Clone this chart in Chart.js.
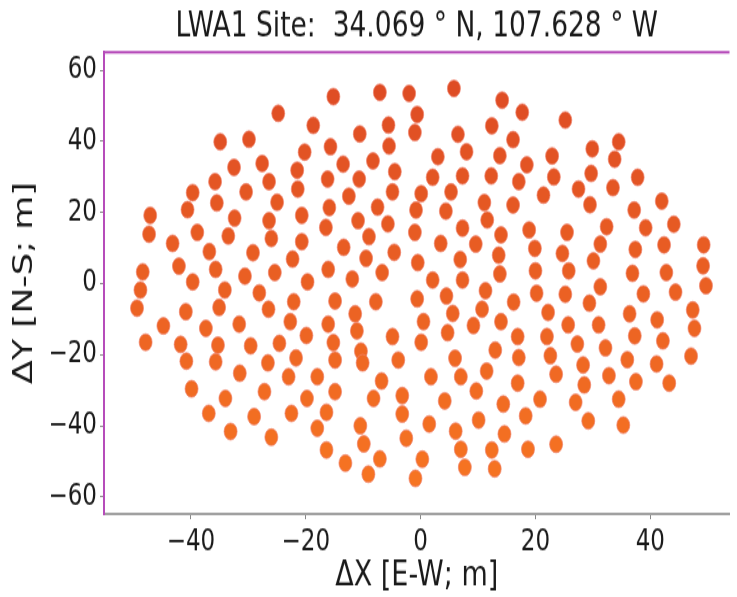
<!DOCTYPE html>
<html><head><meta charset="utf-8">
<script src="https://cdn.jsdelivr.net/npm/chart.js@4.4.0/dist/chart.umd.min.js"></script>
<style>
html,body{margin:0;padding:0;background:#fff;width:737px;height:597px;}
#wrap{width:737px;height:460px;transform:scaleY(1.2978);transform-origin:0 0;}
canvas{display:block;}
</style></head><body>
<div id="wrap"><canvas id="c" width="737" height="460"></canvas></div>
<script>
// Antenna positions (metres), E-W and N-S offsets
const xEW = [
-24.8,-18.7,-34.9,-29.9,-20.2,-32.5,-27.6,-21.5,-35.8,-30.4,
-26.4,-21.4,-39.7,-35.5,-25.0,-40.6,-47.1,-20.7,-32.4,-15.2,
-7.1,-2.0,5.8,14.2,17.7,-10.6,-5.6,-0.6,-1.0,6.5,
12.4,16.1,-15.7,-5.5,-8.3,-13.5,3.0,8.0,13.8,-4.5,
2.1,7.3,12.3,17.1,-16.2,-10.7,-12.5,-4.9,0.1,5.3,
11.1,16.1,-15.9,-7.5,-0.8,4.4,25.2,34.5,29.9,22.9,
33.8,18.5,23.2,29.7,37.8,21.4,27.5,33.5,42.0,29.5,
37.2,-26.4,-47.3,-38.9,-33.5,-26.0,-20.7,-43.2,-36.8,-29.2,
-22.3,-48.4,-42.1,-35.7,-30.6,-25.4,-19.7,-39.7,-48.8,-34.1,
-28.1,-49.4,-40.9,-35.1,-26.5,-22.1,-44.8,-37.4,-31.6,-22.7,
-19.9,-47.9,-41.8,-35.3,-29.6,-24.6,-40.8,-35.7,-26.6,-21.7,
-31.5,-23.0,-18.0,-39.9,-34.0,-27.2,-19.8,-36.9,-29.0,-22.5,
-18.0,-33.1,-26.0,-10.9,-5.7,-16.5,-1.0,7.3,11.6,14.0,
-9.0,-13.4,-4.6,3.5,9.6,-9.5,-0.5,6.9,13.6,-16.1,
-11.9,-6.7,2.1,7.3,13.8,-14.9,-7.8,-0.6,4.5,11.3,
16.2,-11.4,5.6,10.7,-16.1,-11.1,0.5,9.2,14.0,-15.2,
-4.9,0.1,4.7,13.0,16.9,-10.4,-14.9,-10.1,-3.9,6.0,
11.5,17.1,-6.8,1.8,7.0,16.9,-14.9,-8.2,-3.2,4.2,
9.7,14.4,-16.4,-3.2,10.1,18.3,-10.5,1.5,6.1,14.6,
-16.4,-9.9,-2.5,7.0,12.4,-13.1,-7.1,0.3,7.7,12.9,
-9.1,-0.9,18.9,25.5,32.4,39.2,44.1,19.9,24.7,31.3,
37.4,42.4,49.3,30.1,20.0,25.8,36.9,42.8,49.2,49.7,
31.3,20.2,25.2,38.8,44.4,29.4,22.2,36.4,41.2,47.4,
25.7,31.0,47.7,22.0,27.3,32.2,37.3,42.2,22.6,28.3,
36.0,41.1,47.1,23.6,28.5,32.8,37.5,43.3,20.8,27.0,
34.5,29.2,35.3,18.7,23.6
];
const yNS = [
47.9,44.5,39.9,40.6,37.0,32.7,33.8,31.9,28.7,25.8,
28.7,26.6,25.6,22.7,22.9,20.8,19.2,19.2,18.4,52.6,
53.8,53.5,54.9,51.6,48.2,42.1,44.6,47.6,42.5,42.0,
44.4,40.5,38.5,38.7,34.5,33.6,35.7,37.1,36.0,31.5,
29.9,30.3,30.3,28.7,29.4,29.4,24.6,25.8,25.3,25.8,
22.8,22.1,21.4,21.5,20.7,20.4,46.0,39.9,37.9,35.9,
35.0,33.4,30.0,31.0,29.9,24.9,26.6,27.0,23.2,22.2,
20.7,17.7,13.9,14.4,13.4,12.7,11.8,11.3,9.0,8.7,
6.9,3.3,4.9,4.0,2.1,3.1,0.5,0.5,-1.8,-1.8,
-2.6,-6.9,-7.9,-6.7,-7.2,-5.1,-11.9,-12.6,-11.4,-10.7,
-14.6,-16.5,-17.1,-17.3,-17.5,-16.8,-21.8,-22.0,-22.3,-20.9,
-25.2,-26.2,-26.2,-29.6,-32.3,-30.4,-32.3,-36.5,-37.4,-36.5,
-40.7,-41.6,-43.2,17.7,16.8,15.8,14.4,15.6,17.9,13.7,
13.2,10.2,8.8,11.3,11.1,7.1,5.9,6.8,8.0,4.0,
1.3,3.1,1.0,1.0,2.7,-4.9,-5.1,-4.3,-3.5,-2.0,
-5.2,-8.5,-8.4,-7.2,-11.4,-13.3,-10.7,-11.8,-10.7,-16.6,
-14.9,-16.5,-13.8,-18.7,-14.9,-19.0,-21.5,-22.3,-21.5,-21.0,
-24.6,-20.8,-27.4,-26.2,-26.2,-28.0,-30.4,-32.3,-31.5,-33.0,
-30.2,-33.9,-36.2,-36.7,-38.4,-37.2,-40.0,-39.5,-41.5,-42.3,
-46.8,-45.1,-43.5,-46.6,-46.8,-50.5,-49.3,-49.4,-51.7,-52.1,
-53.6,-54.8,15.1,14.4,16.0,15.7,16.7,9.9,8.5,11.1,
9.6,10.9,10.9,6.4,3.6,3.6,2.9,3.1,5.0,-0.6,
-0.9,-2.7,-3.0,-2.9,-2.4,-5.5,-8.1,-8.5,-10.2,-7.4,
-11.6,-11.6,-12.6,-14.9,-17.0,-18.1,-14.7,-16.1,-20.3,-22.9,
-21.4,-22.6,-20.4,-25.5,-28.5,-25.9,-27.6,-28.0,-32.5,-33.4,
-32.5,-38.6,-39.8,-46.6,-45.2
];
const xTicks = [-40,-20,0,20,40];
const yTicks = [-60,-40,-20,0,20,40,60];
const xRange = [-55.15, 53.8];
const yRange = [-64.8, 65.1];
const titleText = 'LWA1 Site:  34.069 \u00B0 N, 107.628 \u00B0 W';
const xTitle = '\u0394X [E-W; m]';
const yTitle = '\u0394Y [N-S; m]';

const points = xEW.map((x, i) => ({x: x, y: yNS[i]}));

function dotColor(ctx) {
  const p = ctx.raw;
  if (!p) return 'rgb(234,96,34)';
  const t = Math.min(1, Math.max(0, (55 - p.y) / 110));
  const a = [222, 76, 36], b = [246, 116, 34];
  const c = a.map((v, k) => Math.round(v + (b[k] - v) * t));
  return 'rgb(' + c.join(',') + ')';
}
const fmt = v => (v < 0 ? '\u2212' + Math.abs(v) : String(v));

const topFrame = {
  id: 'topFrame',
  afterDraw(chart) {
    const {ctx, chartArea: a} = chart;
    ctx.save();
    ctx.strokeStyle = '#b64cba';
    ctx.lineWidth = 2;
    ctx.beginPath();
    ctx.moveTo(a.left, a.top);
    ctx.lineTo(a.right, a.top);
    ctx.stroke();
    ctx.restore();
  }
};

Chart.defaults.font.family = "'DejaVu Sans', sans-serif";
Chart.defaults.color = '#1a1a1a';

new Chart(document.getElementById('c'), {
  type: 'scatter',
  data: {datasets: [{
    data: points,
    backgroundColor: dotColor,
    borderColor: 'rgba(240,130,110,0.7)',
    borderWidth: 1,
    pointRadius: 6.5,
    pointHoverRadius: 6.5
  }]},
  options: {
    responsive: false,
    animation: false,
    devicePixelRatio: 1,
    layout: {padding: {left: 0, right: 0, top: 0, bottom: 0}},
    plugins: {
      legend: {display: false},
      tooltip: {enabled: false},
      title: {display: true, text: titleText, fullSize: false, font: {size: 26.5, weight: 'normal'},
              color: '#1a1a1a', padding: {top: 5, bottom: 3.4}}
    },
    scales: {
      x: {
        type: 'linear', min: xRange[0], max: xRange[1],
        afterBuildTicks: ax => { ax.ticks = xTicks.map(v => ({value: v})); },
        afterFit: ax => { ax.height = 64; },
        ticks: {font: {size: 23}, padding: 4, callback: fmt, maxRotation: 0, autoSkip: false},
        grid: {display: true, drawOnChartArea: false, drawTicks: true, tickLength: 4, color: '#888'},
        border: {display: true, color: '#a0a0a0', width: 2},
        title: {display: true, text: xTitle, font: {size: 27}, padding: {top: 0, bottom: 0}}
      },
      y: {
        type: 'linear', min: yRange[0], max: yRange[1],
        afterBuildTicks: ax => { ax.ticks = yTicks.map(v => ({value: v})); },
        afterFit: ax => { ax.width = 104; },
        ticks: {font: {size: 23}, padding: 3, callback: fmt, autoSkip: false},
        grid: {display: true, drawOnChartArea: false, drawTicks: true, tickLength: 4, color: '#888'},
        border: {display: true, color: '#b64cba', width: 2},
        title: {display: true, text: yTitle, font: {size: 27}, padding: {top: 9, bottom: 0}}
      }
    }
  },
  plugins: [topFrame]
});
</script>
</body></html>
